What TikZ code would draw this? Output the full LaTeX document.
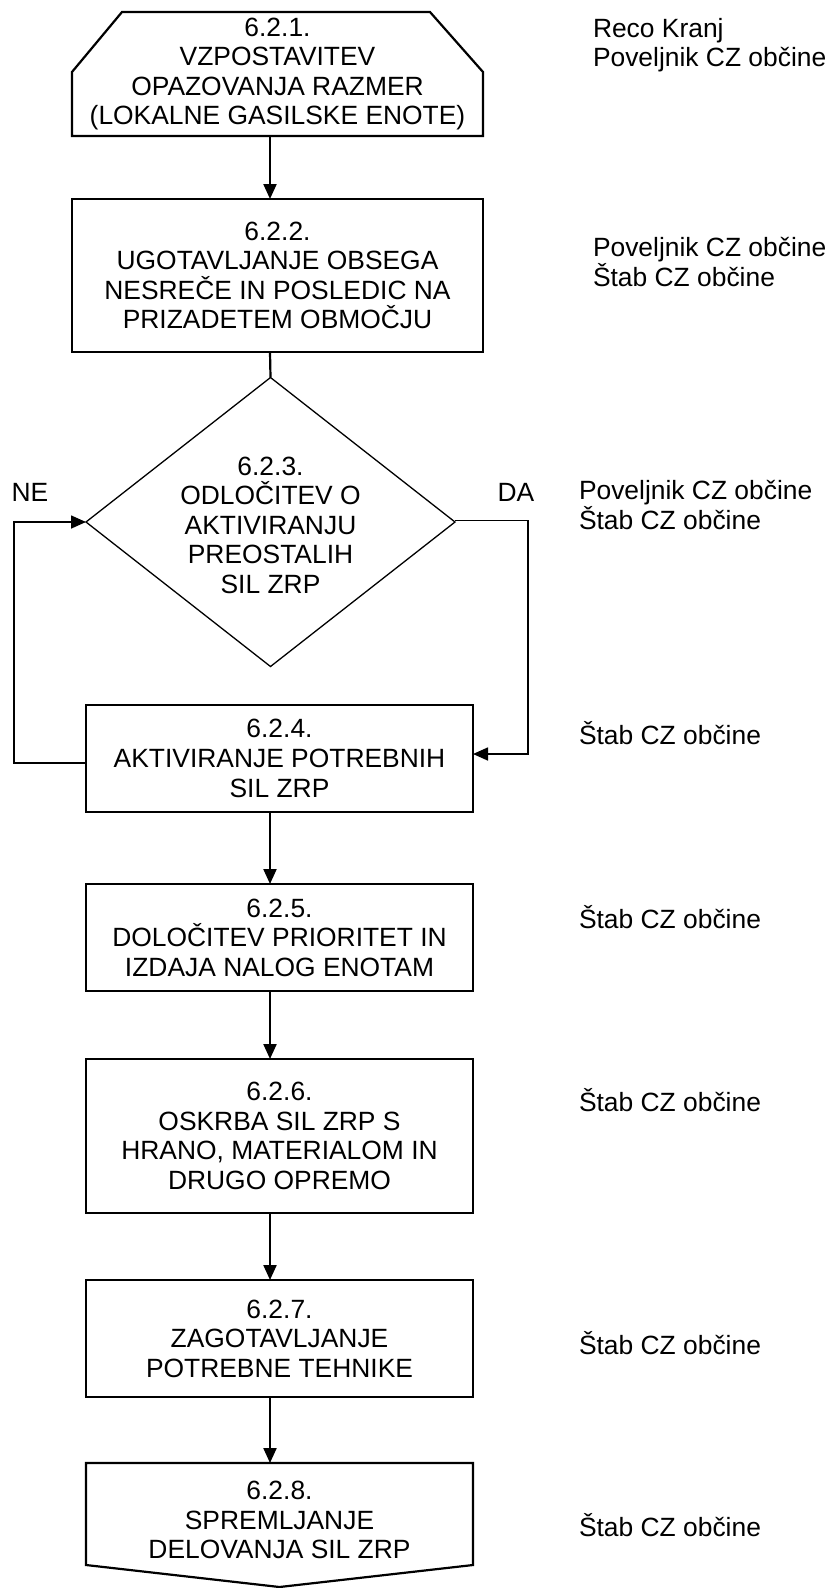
\documentclass[tikz,border=0pt]{standalone}
\usepackage{fontspec}
\setmainfont{Liberation Sans}
\usetikzlibrary{shapes.geometric,arrows.meta}

\begin{document}
\begin{tikzpicture}[x=1pt,y=-1pt,
    every node/.style={font=\fontsize{26.4}{29.6}\selectfont, inner sep=0pt, outer sep=0pt},
    stepbox/.style={draw, line width=2.2pt, align=center, minimum width=387pt},
    widebox/.style={stepbox, minimum width=411pt},
    decision/.style={draw, diamond, aspect=1.28, line width=1.3pt, align=center, minimum width=369pt, minimum height=289pt},
    arr/.style={line width=2.2pt, -{Triangle[length=15pt,width=13pt]}},
    loopline/.style={line width=1.6pt, -{Triangle[length=15pt,width=13pt]}},
    who/.style={anchor=west, align=left}]
    \useasboundingbox (0,0) rectangle (830,1588);

    % Column of the connectors
    \def\colx{270}
    \coordinate (col) at (\colx,0);

    % Steps of the procedure
    \node[widebox, draw=none, minimum height=124pt] (s1) at (277.5,74)
        {6.2.1.\\VZPOSTAVITEV\\OPAZOVANJA RAZMER\\(LOKALNE GASILSKE ENOTE)};
    \draw[line width=2.2pt, line join=miter] (s1.south west) -- ++(0,-64) -- ++(50,-60)
        -- ([xshift=-53pt]s1.north east) -- ++(53,60) -- (s1.south east) -- cycle;
    \node[widebox, minimum height=153pt] (s2) at (277.5,275.5)
        {6.2.2.\\UGOTAVLJANJE OBSEGA\\NESREČE IN POSLEDIC NA\\PRIZADETEM OBMOČJU};
    \node[decision] (d3) at (270.5,522)
        {\rule{0pt}{25pt}6.2.3.\\ODLOČITEV O\\AKTIVIRANJU\\PREOSTALIH\\SIL ZRP};
    \node[stepbox, minimum height=107pt] (s4) at (279.5,758.5)
        {6.2.4.\\AKTIVIRANJE POTREBNIH\\SIL ZRP};
    \node[stepbox, minimum height=107pt] (s5) at (279.5,937.5)
        {6.2.5.\\DOLOČITEV PRIORITET IN\\IZDAJA NALOG ENOTAM};
    \node[stepbox, minimum height=154pt] (s6) at (279.5,1136)
        {6.2.6.\\OSKRBA SIL ZRP S\\HRANO, MATERIALOM IN\\DRUGO OPREMO};
    \node[stepbox, minimum height=117pt] (s7) at (279.5,1338.5)
        {6.2.7.\\ZAGOTAVLJANJE\\POTREBNE TEHNIKE};
    \node[stepbox, draw=none, minimum height=114pt] (s8) at (279.5,1520)
        {6.2.8.\\SPREMLJANJE\\DELOVANJA SIL ZRP};
    \draw[line width=2.2pt, line join=miter] (s8.north west) -- ++(0,102) -- ([yshift=-10pt]s8.south)
        -- ([yshift=12pt]s8.south east) -- (s8.north east) -- cycle;

    % Connectors
    \draw[arr] (s1.south -| col) -- (s2.north -| col);
    \draw[line width=2.2pt] (s2.south -| col) -- (d3.north);
    \draw[arr] (s4.south -| col) -- (s5.north -| col);
    \draw[arr] (s5.south -| col) -- (s6.north -| col);
    \draw[arr] (s6.south -| col) -- (s7.north -| col);
    \draw[arr] (s7.south -| col) -- (s8.north -| col);

    % NE and DA branches
    \draw[loopline] ([yshift=-4.5pt]s4.west) -| ([xshift=-72pt]d3.west) -- (d3.west);
    \draw[loopline] ([yshift=1.5pt]d3.east) -- ++(73,0) |- ([yshift=4.5pt]s4.east);
    \node (ne) at (30,492) {NE};
    \node (da) at (516,492) {DA};

    % Who is responsible
    \node[who] (r1) at (593,45) {Reco Kranj\\Poveljnik CZ občine};
    \node[who] (r2) at (593,262) {Poveljnik CZ občine\\Štab CZ občine};
    \node[who] (r3) at (579,505) {Poveljnik CZ občine\\Štab CZ občine};
    \node[who] (r4) at (579,733) {Štab CZ občine};
    \node[who] (r5) at (579,917) {Štab CZ občine};
    \node[who] (r6) at (579,1100) {Štab CZ občine};
    \node[who] (r7) at (579,1343) {Štab CZ občine};
    \node[who] (r8) at (579,1525) {Štab CZ občine};

\end{tikzpicture}
\end{document}
